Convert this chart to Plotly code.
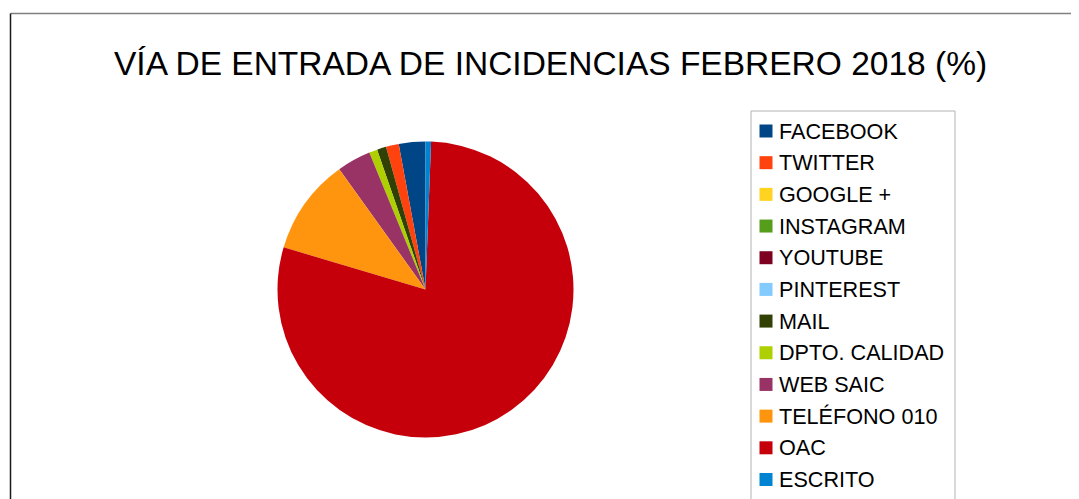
import plotly.graph_objects as go

W, H = 1079, 499
OFF = 8  # default page body margin in the written HTML

title = "VÍA DE ENTRADA DE INCIDENCIAS FEBRERO 2018 (%)"
labels = ["FACEBOOK", "TWITTER", "GOOGLE +", "INSTAGRAM", "YOUTUBE", "PINTEREST",
          "MAIL", "DPTO. CALIDAD", "WEB SAIC", "TELÉFONO 010", "OAC", "ESCRITO"]
values = [2.9, 1.4, 0.0, 0.0, 0.0, 0.0, 1.0, 0.9, 3.7, 10.5, 79.0, 0.6]
colors = ["#004586", "#ff420e", "#ffd320", "#579d1c", "#7e0021", "#83caff",
          "#314004", "#aecf00", "#993366", "#ff950e", "#c5000b", "#0084d1"]


def px(x):
    return (x - OFF) / W


def py(y):
    return 1 - (y - OFF) / H


cx, cy, r = 425.5, 289.5, 148
# first slice should start at 12 o'clock and run counterclockwise
rot = -360.0 * values[0] / sum(values)
fig = go.Figure(go.Pie(
    labels=labels, values=values, sort=False, direction="counterclockwise",
    rotation=rot, textinfo="none", hoverinfo="label+percent",
    marker=dict(colors=colors, line=dict(width=0)),
    domain=dict(x=[px(cx - r), px(cx + r)], y=[py(cy + r), py(cy - r)]),
    showlegend=False,
))

shapes = [
    # outer chart border
    dict(type="line", xref="paper", yref="paper", x0=px(10.5), x1=px(1100),
         y0=py(13.5), y1=py(13.5), line=dict(color="#808080", width=1.5)),
    dict(type="line", xref="paper", yref="paper", x0=px(10.5), x1=px(10.5),
         y0=py(13.5), y1=py(520), line=dict(color="#1a1a1a", width=1.5)),
    # legend box
    dict(type="rect", xref="paper", yref="paper", x0=px(751), x1=px(955),
         y0=py(111), y1=py(520), line=dict(color="#b3b3b3", width=1),
         fillcolor="rgba(0,0,0,0)"),
]
annotations = []
top, step = 131, 31.68
for i, (lab, col) in enumerate(zip(labels, colors)):
    yc = top + i * step
    shapes.append(dict(type="rect", xref="paper", yref="paper",
                       x0=px(759.5), x1=px(772.5), y0=py(yc - 6.5), y1=py(yc + 6.5),
                       line=dict(width=0), fillcolor=col))
    annotations.append(dict(x=px(777), y=py(yc), xref="paper", yref="paper",
                            text=lab, showarrow=False, xanchor="left", yanchor="middle",
                            font=dict(family="Liberation Sans, Arial, sans-serif",
                                      size=21.6, color="#000000")))

annotations.append(dict(x=px(550), y=py(63), xref="paper", yref="paper",
                        text=title, showarrow=False, xanchor="center", yanchor="middle",
                        font=dict(family="Liberation Sans, Arial, sans-serif",
                                  size=33.5, color="#000000")))

fig.update_layout(
    width=W, height=H, margin=dict(l=0, r=0, t=0, b=0),
    paper_bgcolor="white", plot_bgcolor="white",
    shapes=shapes, annotations=annotations, showlegend=False,
)

fig.write_html("out.html")
